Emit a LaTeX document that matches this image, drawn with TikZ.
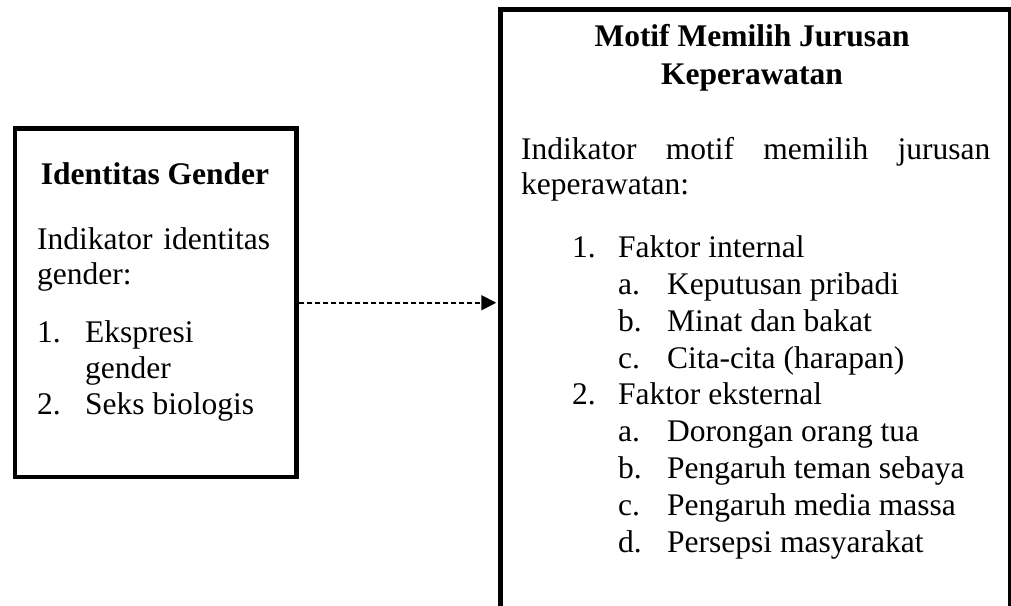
\documentclass[tikz,border=0pt]{standalone}
\usepackage{fontspec}
\setmainfont{Liberation Serif}
\usetikzlibrary{arrows.meta}

\begin{document}
\begin{tikzpicture}[x=1pt,y=1pt,
        box/.style={draw, line width=4.5pt, inner sep=0pt},
        txt/.style={anchor=base west, inner sep=0pt, font=\fontsize{31.5}{36}\selectfont},
        ttl/.style={anchor=base, inner sep=0pt, font=\fontsize{31.5}{36}\selectfont\bfseries}]
    \useasboundingbox (0,0) rectangle (1011,605);
    \clip (0,0) rectangle (1011,605);

    % Boxes (the right one runs past the lower edge)
    \node[box, minimum width=281.5pt, minimum height=348.5pt] (gender) at (155.75,302.25) {};
    \node[box, minimum width=510pt, minimum height=625pt] (motif) at (755.5,283) {};

    % Link
    \draw[line width=1.8pt, dash pattern=on 5pt off 3pt, shorten >=2pt,
          -{Triangle[length=15pt,width=15pt]}] (gender.east) -- (gender.east -| motif.west);

    % Left box text
    \node[ttl] (gtitle) at (155,420) {Identitas Gender};
    \node[txt] (gind1) at (37,355) {\makebox[233pt][s]{Indikator identitas}};
    \node[txt] (gind2) at (37,320) {gender:};
    \node[txt] (gn1) at (37,262) {1.};
    \node[txt] (gi1) at (85,262) {Ekspresi};
    \node[txt] (gi1b) at (85,226) {gender};
    \node[txt] (gn2) at (37,190) {2.};
    \node[txt] (gi2) at (85,190) {Seks biologis};

    % Right box text
    \node[ttl] (mtitle1) at (752,558) {Motif Memilih Jurusan};
    \node[ttl] (mtitle2) at (752,520) {Keperawatan};
    \node[txt] (mind1) at (521,445) {\makebox[469pt][s]{Indikator motif memilih jurusan}};
    \node[txt] (mind2) at (521,410) {keperawatan:};
    \node[txt] (mn1) at (572,347) {1.};
    \node[txt] (mf1) at (618,347) {Faktor internal};
    \node[txt] (ma1) at (618,310.25) {a.};
    \node[txt] (mi1a) at (667,310.25) {Keputusan pribadi};
    \node[txt] (mb1) at (618,273.5) {b.};
    \node[txt] (mi1b) at (667,273.5) {Minat dan bakat};
    \node[txt] (mc1) at (618,236.75) {c.};
    \node[txt] (mi1c) at (667,236.75) {Cita-cita (harapan)};
    \node[txt] (mn2) at (572,200) {2.};
    \node[txt] (mf2) at (618,200) {Faktor eksternal};
    \node[txt] (ma2) at (618,163.25) {a.};
    \node[txt] (mi2a) at (667,163.25) {Dorongan orang tua};
    \node[txt] (mb2) at (618,126.5) {b.};
    \node[txt] (mi2b) at (667,126.5) {Pengaruh teman sebaya};
    \node[txt] (mc2) at (618,89.75) {c.};
    \node[txt] (mi2c) at (667,89.75) {Pengaruh media massa};
    \node[txt] (md2) at (618,53) {d.};
    \node[txt] (mi2d) at (667,53) {Persepsi masyarakat};
\end{tikzpicture}
\end{document}
